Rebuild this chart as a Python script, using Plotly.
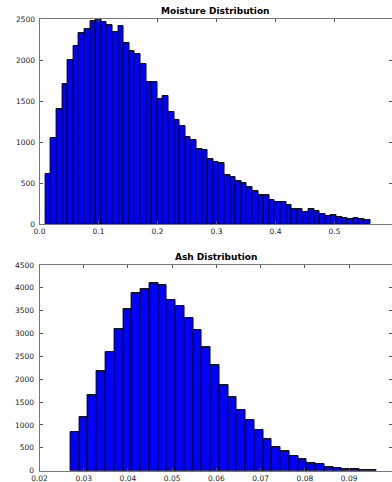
import plotly.graph_objects as go

# ---- data ----
moisture_bin_start = 0.0099
moisture_bin_width = 0.00949
moisture_counts = [
    606, 1045, 1402, 1707, 2004, 2175, 2333, 2378, 2476, 2500,
    2463, 2431, 2346, 2411, 2211, 2110, 2073, 1951, 1728, 1728,
    1524, 1565, 1366, 1264, 1191, 1065, 1020, 919, 907, 797,
    752, 744, 602, 577, 520, 496, 455, 402, 350, 350,
    297, 272, 264, 228, 179, 187, 142, 183, 159, 118,
    102, 114, 85, 77, 61, 77, 61, 53,
]

ash_bin_start = 0.0270
ash_bin_width = 0.00198
ash_counts = [
    839, 1167, 1648, 2188, 2589, 3107, 3530, 3880, 3975, 4113,
    4055, 3734, 3595, 3340, 3078, 2713, 2305, 1867, 1612, 1327,
    1116, 882, 700, 525, 423, 328, 248, 175, 139, 88,
    66, 44, 29, 22, 15,
]

moisture_title = "Moisture Distribution"
ash_title = "Ash Distribution"
moisture_yticks = [0, 500, 1000, 1500, 2000, 2500]
moisture_xticks = [0.0, 0.1, 0.2, 0.3, 0.4, 0.5, 0.6]
ash_yticks = [0, 500, 1000, 1500, 2000, 2500, 3000, 3500, 4000, 4500]
ash_xticks = [0.02, 0.03, 0.04, 0.05, 0.06, 0.07, 0.08, 0.09, 0.10]

# ---- figure ----
W, H = 392, 482
moist_x = [moisture_bin_start + moisture_bin_width * (i + 0.5) for i in range(len(moisture_counts))]
ash_x = [ash_bin_start + ash_bin_width * (i + 0.5) for i in range(len(ash_counts))]

fig = go.Figure()
fig.add_trace(go.Bar(x=moist_x, y=moisture_counts, width=moisture_bin_width,
                     marker=dict(color="#0000ff", line=dict(color="#000000", width=0.9)),
                     xaxis="x", yaxis="y", showlegend=False, hoverinfo="skip"))
fig.add_trace(go.Bar(x=ash_x, y=ash_counts, width=ash_bin_width,
                     marker=dict(color="#0000ff", line=dict(color="#000000", width=0.9)),
                     xaxis="x2", yaxis="y2", showlegend=False, hoverinfo="skip"))

left = 39.5 / W
tickfont = dict(family="DejaVu Sans", size=7.5, color="#222222")
axis_common = dict(showgrid=False, zeroline=False, showline=True, mirror="allticks",
                   linecolor="#777777", linewidth=1, ticks="inside", ticklen=3,
                   tickcolor="#555555", tickwidth=1, tickfont=tickfont,
                   automargin=False)

top_dom = [1 - 224 / H, 1 - 19 / H]
bot_dom = [1 - 470.7 / H, 1 - 265 / H]

fig.update_layout(
    width=W, height=H,
    margin=dict(l=0, r=0, t=0, b=0, autoexpand=False),
    paper_bgcolor="white", plot_bgcolor="white",
    bargap=0,
    xaxis=dict(domain=[left, 1], anchor="y", range=[0, (392 - 39.5) / 590],
               tickvals=moisture_xticks, tickformat=".1f", ticklabelstandoff=0, **axis_common),
    yaxis=dict(domain=top_dom, anchor="x", range=[0, 2500],
               tickvals=moisture_yticks, ticklabelstandoff=2, **axis_common),
    xaxis2=dict(domain=[left, 1], anchor="y2", range=[0.02, 0.02 + (392 - 39.3) / 4425],
                tickvals=ash_xticks, tickformat=".2f", ticklabelstandoff=0, **axis_common),
    yaxis2=dict(domain=bot_dom, anchor="x2", range=[0, 4500],
                tickvals=ash_yticks, ticklabelstandoff=3, **axis_common),
    annotations=[
        dict(text="<b>" + moisture_title + "</b>", xref="paper", yref="paper",
             x=(left + 1) / 2, y=1 - 11 / H, xanchor="center", yanchor="middle",
             showarrow=False, font=dict(family="DejaVu Sans", size=9, color="#000000")),
        dict(text="<b>" + ash_title + "</b>", xref="paper", yref="paper",
             x=(left + 1) / 2, y=1 - 257 / H, xanchor="center", yanchor="middle",
             showarrow=False, font=dict(family="DejaVu Sans", size=9, color="#000000")),
    ],
)

fig.write_html("out.html", config={"displayModeBar": False},
               post_script="document.body.style.margin='0px';")
